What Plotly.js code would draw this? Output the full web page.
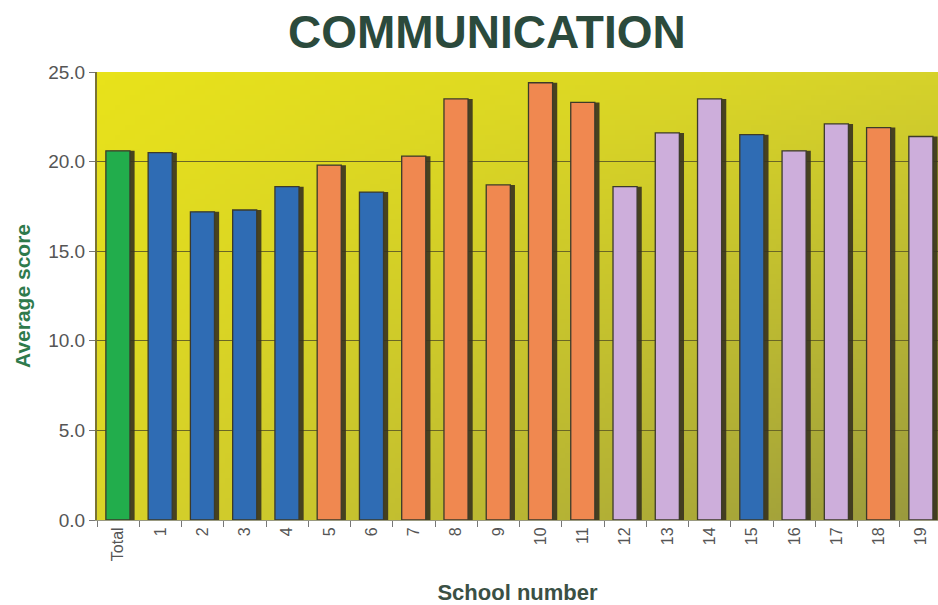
<!DOCTYPE html>
<html>
<head>
<meta charset="utf-8">
<script src="https://cdn.plot.ly/plotly-3.0.1.min.js"></script>
<style>html,body{margin:0;padding:0;background:#fff;}#chart{width:938px;height:605px;}</style>
</head>
<body>
<div id="chart"></div>
<script>
const categories = ["Total","1","2","3","4","5","6","7","8","9","10","11","12","13","14","15","16","17","18","19"];
const scores = [20.6,20.5,17.2,17.3,18.6,19.8,18.3,20.3,23.5,18.7,24.4,23.3,18.6,21.6,23.5,21.5,20.6,22.1,21.9,21.4];
const groups = ["total","blue","blue","blue","blue","orange","blue","orange","orange","orange","orange","orange","lilac","lilac","lilac","blue","lilac","lilac","orange","lilac"];
const groupColors = {total:"#22ad4c", blue:"#2f6cb4", orange:"#f08850", lilac:"#cdaedb"};
const yTicks = [0,5,10,15,20,25];
const yTickLabels = ["0.0","5.0","10.0","15.0","20.0","25.0"];

// gradient background image (bilinear between corner colours)
const W = 168, H = 90;
const cv = document.createElement("canvas");
cv.width = W; cv.height = H;
const cx = cv.getContext("2d");
const img = cx.createImageData(W, H);
const TL = [232,226,26], TR = [214,210,42], BL = [218,212,40], BR = [152,152,62];
for (let j = 0; j < H; j++) {
  for (let i = 0; i < W; i++) {
    const u = i/(W-1), v = j/(H-1);
    const k = (j*W+i)*4;
    for (let c = 0; c < 3; c++) {
      img.data[k+c] = Math.round(TL[c]*(1-u)*(1-v) + TR[c]*u*(1-v) + BL[c]*(1-u)*v + BR[c]*u*v);
    }
    img.data[k+3] = 255;
  }
}
cx.putImageData(img, 0, 0);
const bg = cv.toDataURL();

const colors = groups.map(k => groupColors[k]);

const shadow = {
  type:"bar", x:categories, y:scores, width:0.58, offset:-0.19,
  marker:{color:"rgba(55,50,30,0.9)", line:{width:0}},
  hoverinfo:"skip", showlegend:false
};
const main = {
  type:"bar", x:categories, y:scores, width:0.57, offset:-0.29,
  marker:{color:colors, line:{color:"#3c3a2a", width:1.3}},
  showlegend:false
};

const layout = {
  width:938, height:605,
  margin:{l:97, r:0, t:72, b:85},
  paper_bgcolor:"#ffffff",
  plot_bgcolor:"rgba(0,0,0,0)",
  barmode:"overlay",
  title:{text:"<b>COMMUNICATION</b>", x:0.519, xanchor:"center", y:0.948, yanchor:"middle",
    font:{family:"Liberation Sans, Arial, sans-serif", size:46, color:"#2b4a3c"}},
  xaxis:{type:"category", range:[-0.5,19.4], tickangle:-90, ticks:"outside", tickson:"boundaries",
    ticklen:6, tickcolor:"#777", showgrid:false, showline:true, linecolor:"#9a9a80", linewidth:1,
    tickfont:{family:"Liberation Sans, Arial, sans-serif", size:16, color:"#555"},
    title:{text:"<b>School number</b>", standoff:28, font:{family:"Liberation Sans, Arial, sans-serif", size:22, color:"#3a5044"}}},
  yaxis:{range:[0,25], tickvals:yTicks, ticktext:yTickLabels, ticks:"outside", ticklen:6, tickcolor:"#777",
    showgrid:true, gridcolor:"#6a6626", gridwidth:1.2, zeroline:false,
    showline:true, linecolor:"#7a7434", linewidth:2,
    tickfont:{family:"Liberation Sans, Arial, sans-serif", size:19, color:"#555"},
    title:{text:"<b>Average score</b>", standoff:12, font:{family:"Liberation Sans, Arial, sans-serif", size:21, color:"#2e7a4c"}}},
  images:[{source:bg, xref:"paper", yref:"paper", x:0, y:1, sizex:1, sizey:1, sizing:"stretch", layer:"below"}]
};

Plotly.newPlot("chart", [shadow, main], layout, {displayModeBar:false, staticPlot:true});
</script>
</body>
</html>
